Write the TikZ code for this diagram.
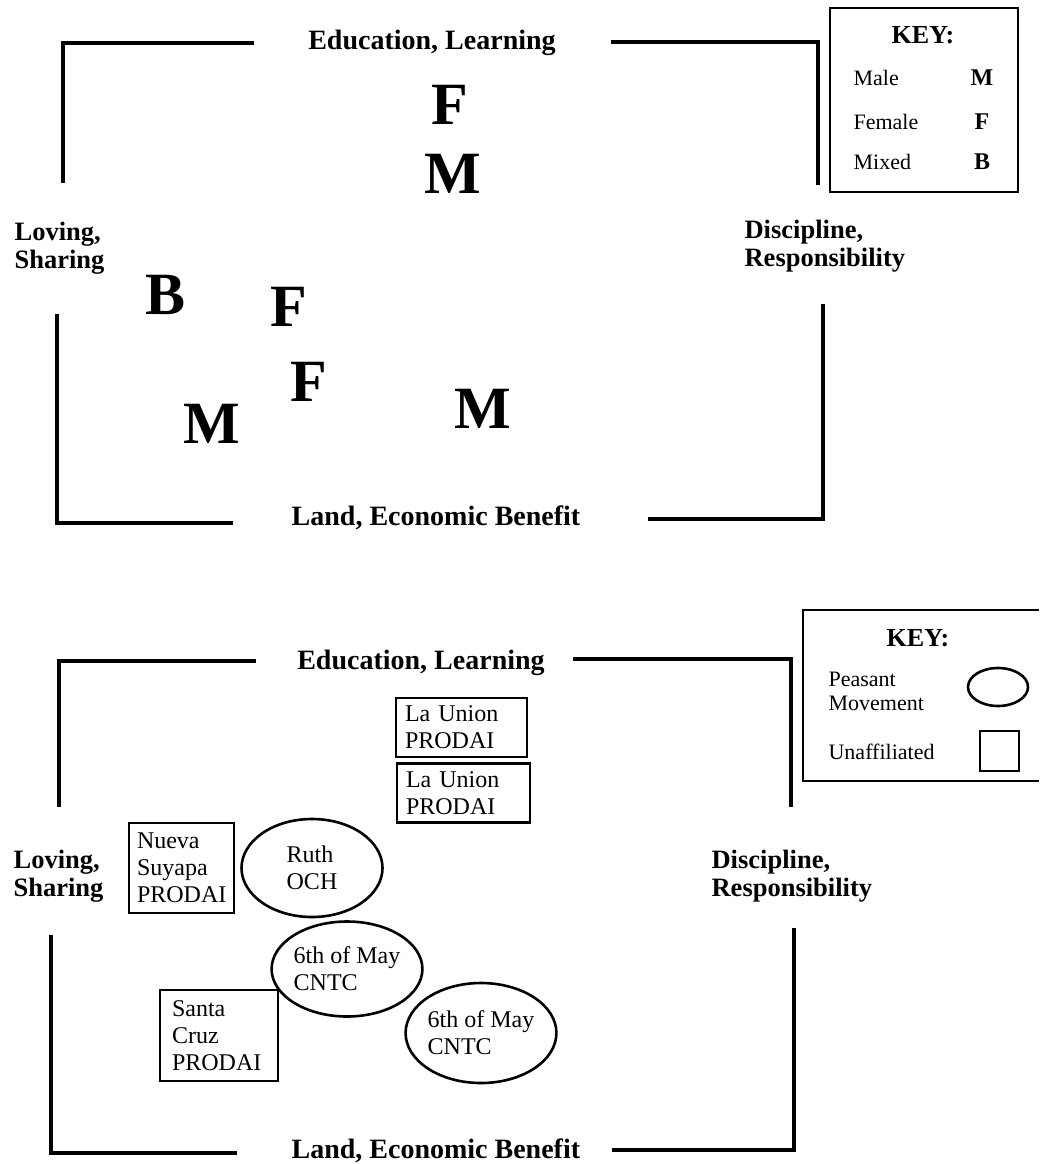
\documentclass[tikz,border=0pt]{standalone}
\usepackage{fontspec}
\setmainfont{Liberation Serif}
\usetikzlibrary{shapes.geometric,positioning}
\begin{document}
\begin{tikzpicture}[x=1pt,y=-1pt,line width=3.2pt,
 axis/.style={font=\fontsize{28}{29}\selectfont\bfseries,inner sep=0pt,align=left},
 side/.style={font=\fontsize{26.5}{28}\selectfont\bfseries,inner sep=0pt,align=left,anchor=west},
 big/.style={font=\fontsize{60}{62}\selectfont\bfseries,inner sep=0pt},
 keyhead/.style={font=\fontsize{26}{28}\selectfont\bfseries,inner sep=0pt},
 keytxt/.style={font=\fontsize{22}{24}\selectfont,inner sep=0pt,anchor=west,align=left},
 keysym/.style={font=\fontsize{24}{26}\selectfont\bfseries,inner sep=0pt},
 group/.style={draw,line width=2.6pt,font=\fontsize{24}{27}\selectfont,align=left,inner ysep=0pt},
 movement/.style={draw,ellipse,line width=2.6pt,font=\fontsize{24}{27}\selectfont,align=left,inner sep=0pt}]
\useasboundingbox (0,0) rectangle (1039,1164);
% gender map
\draw (254,43)--(63,43)--(63,183);
\draw (611,42)--(818,42)--(818,185);
\draw (57,314)--(57,523)--(233,523);
\draw (823,304)--(823,519)--(648,519);
\node[axis,anchor=base] (eduA) at (432,50) {Education, Learning};
\node[axis,anchor=base] (landA) at (436,525) {Land, Economic Benefit};
\node[side] (lovA) at (13,248) {Loving,\\Sharing};
\node[side] (discA) at (743,246) {Discipline,\\Responsibility};
\node[big] (fA) at (450,105) {F};
\node[big] (mA) at (453,174) {M};
\node[big] (bA) at (166,295) {B};
\node[big] (fB) at (289,307) {F};
\node[big] (fC) at (309,382) {F};
\node[big] (mB) at (212,424) {M};
\node[big] (mC) at (483,409) {M};
\draw[line width=2.6pt] (830,8) rectangle (1018,192);
\node[keyhead] (keyA) at (923,35) {KEY:};
\node[keytxt] (male) at (852,78) {Male};
\node[keytxt] (female) at (852,122) {Female};
\node[keytxt] (mixed) at (852,162) {Mixed};
\node[keysym] at (982,78) {M};
\node[keysym] at (982,122) {F};
\node[keysym] at (982,162) {B};
% affiliation map
\draw (256,661)--(59,661)--(59,807);
\draw (573,659)--(791,659)--(791,807);
\draw (51,935)--(51,1153)--(237,1153);
\draw (794,928)--(794,1150)--(612,1150);
\node[axis,anchor=base] (eduB) at (421,669) {Education, Learning};
\node[axis,anchor=base west] (landB) at (290,1158) {Land, Economic Benefit};
\node[side] (lovB) at (12,876) {Loving,\\Sharing};
\node[side] (discB) at (710,876) {Discipline,\\Responsibility};
\node[group,minimum width=131,minimum height=59,text width=113,inner xsep=9pt] (lu1) at (461.5,727.5) {La Union\\PRODAI};
\node[group,minimum width=133,minimum height=59,text width=115,inner xsep=9pt] (lu2) at (463.5,793) {La Union\\PRODAI};
\node[group,minimum width=105,minimum height=90,text width=89,inner xsep=8pt] (nueva) at (181.5,868) {Nueva\\Suyapa\\PRODAI};
\node[group,minimum width=118,minimum height=91,text width=94,inner xsep=12pt] (santa) at (219,1035.5) {Santa\\Cruz\\PRODAI};
\node[movement,minimum width=141,minimum height=98] (ruth) at (312,868) {Ruth\\OCH};
\node[movement,minimum width=141,minimum height=95] (mayA) at (347,969) {6th of May\\CNTC};
\node[movement,minimum width=142,minimum height=100] (mayB) at (481,1033) {6th of May\\CNTC};
\draw[line width=2.6pt] (1039,610)--(803,610)--(803,781)--(1039,781);
\node[keyhead] (keyB) at (918,638) {KEY:};
\node[keytxt] (peasant) at (827,691) {Peasant\\Movement};
\node[keytxt] (unaff) at (827,752) {Unaffiliated};
\node[draw,ellipse,line width=2.6pt,minimum width=60,minimum height=38,inner sep=0pt] (keyell) at (998,687) {};
\node[draw,line width=2.6pt,minimum width=39,minimum height=40,inner sep=0pt] (keybox) at (999.5,751) {};
\end{tikzpicture}
\end{document}
